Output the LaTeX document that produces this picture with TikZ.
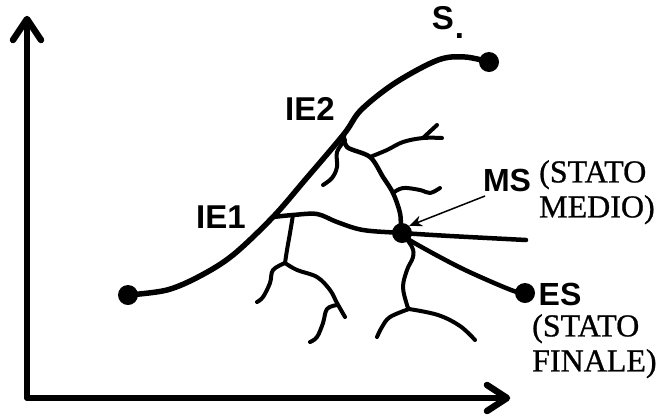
\documentclass[tikz,border=0pt]{standalone}
\usepackage{fontspec}
\setmainfont{Liberation Serif}[FakeBold=0.8]
\newfontfamily\labsans{Liberation Sans}
\usetikzlibrary{arrows.meta}
\begin{document}
\begin{tikzpicture}[x=1pt,y=-1pt,
  dot/.style={circle,fill=black,inner sep=0pt,minimum size=20pt},
  axisline/.style={line width=6.5pt,line join=round,line cap=butt},
  mainline/.style={line width=5.5pt,line cap=round,line join=round},
  branch/.style={line width=4.5pt,line cap=round,line join=round},
  twig/.style={line width=4pt,line cap=round,line join=round},
  sanslab/.style={font=\labsans\bfseries\fontsize{33}{34}\selectfont,inner sep=0pt},
  boldlab/.style={font=\labsans\bfseries\fontsize{32}{34}\selectfont,inner sep=0pt},
  seriflab/.style={font=\fontsize{32}{35}\selectfont,inner sep=0pt,align=left}]
\useasboundingbox (0,0) rectangle (656,416);
% axes
\coordinate (O) at (27,398);
\coordinate (ytip) at (27,19);
\coordinate (xtip) at (507,398);
\draw[axisline] (ytip) -- (O) -- (xtip);
\draw[axisline,line cap=round] (13,40) -- (ytip) -- (41,40);
\draw[axisline,line cap=round] (487,385) -- (xtip) -- (487,411);
% dots
\node[dot] (IS) at (128,295) {};
\node[dot] (S) at (489,62) {};
\node[dot] (MS) at (402,233) {};
\node[dot] (ES) at (525,293) {};
\coordinate (IE1) at (273,217);
\coordinate (IE2) at (344,134);
\coordinate (MSend) at (526,240);
% main curve
\draw[mainline] plot[smooth,tension=0.55] coordinates {(IS) (167,290) (200,276) (233,255) (IE1) (305,180) (IE2) (361,110) (395,83) (438,60) (465,57) (S)};
% IE1 -> MS -> right
\draw[branch] plot[smooth,tension=0.55] coordinates {(IE1) (293,215) (317,214) (337,222) (363,230) (MS) (450,236) (MSend)};
% IE2 -> MS -> ES
\draw[branch] plot[smooth,tension=0.55] coordinates {(IE2) (347,147) (370,157) (383,177) (393,193) (400,213) (MS) (411,241) (461,268) (511,290) (ES)};
% twigs
\draw[twig] plot[smooth,tension=0.6] coordinates {(345,140) (337,152) (337,167) (332,178) (323,185)};
\draw[twig] plot[smooth,tension=0.6] coordinates {(370,157) (387,150) (403,142) (423,138) (442,138)};
\draw[twig] (423,138) -- (437,125);
\draw[twig] plot[smooth,tension=0.6] coordinates {(393,193) (403,188) (420,190) (430,193) (440,188)};
\draw[twig] plot[smooth,tension=0.6] coordinates {(293,215) (290,233) (287,250) (285,263)};
\draw[twig] plot[smooth,tension=0.6] coordinates {(285,263) (273,270) (270,283) (263,297) (257,302)};
\draw[twig] plot[smooth,tension=0.6] coordinates {(285,263) (297,270) (317,277) (330,290) (337,303) (345,317)};
\draw[twig] plot[smooth,tension=0.6] coordinates {(337,305) (327,309) (323,323) (317,337) (310,342)};
\draw[twig] plot[smooth,tension=0.6] coordinates {(MS) (412,247) (413,257) (407,270) (403,287) (407,305) (409,309)};
\draw[twig] plot[smooth,tension=0.6] coordinates {(409,309) (390,317) (382,327) (377,337)};
\draw[twig] plot[smooth,tension=0.6] coordinates {(409,309) (438,315) (460,326) (475,340)};
% labels
\node[sanslab] (lS) at (448,22) {S\kern1pt\raisebox{-9pt}{.}};
\node[sanslab] (lIE2) at (310,109) {IE2};
\node[sanslab] (lIE1) at (221,217) {IE1};
\node[boldlab] (lMS) at (507,180) {MS};
\node[boldlab] (lES) at (560,294) {ES};
\node[seriflab,anchor=north west] (lMSt) at (539,160) {(STATO\\MEDIO)};
\node[seriflab,anchor=north west] (lESt) at (532,314) {(STATO\\FINALE)};
% arrow to MS
\draw[line width=1.5pt,-{Stealth[length=13pt,width=11pt]}] (485,196) -- (MS.north east);
\end{tikzpicture}
\end{document}
